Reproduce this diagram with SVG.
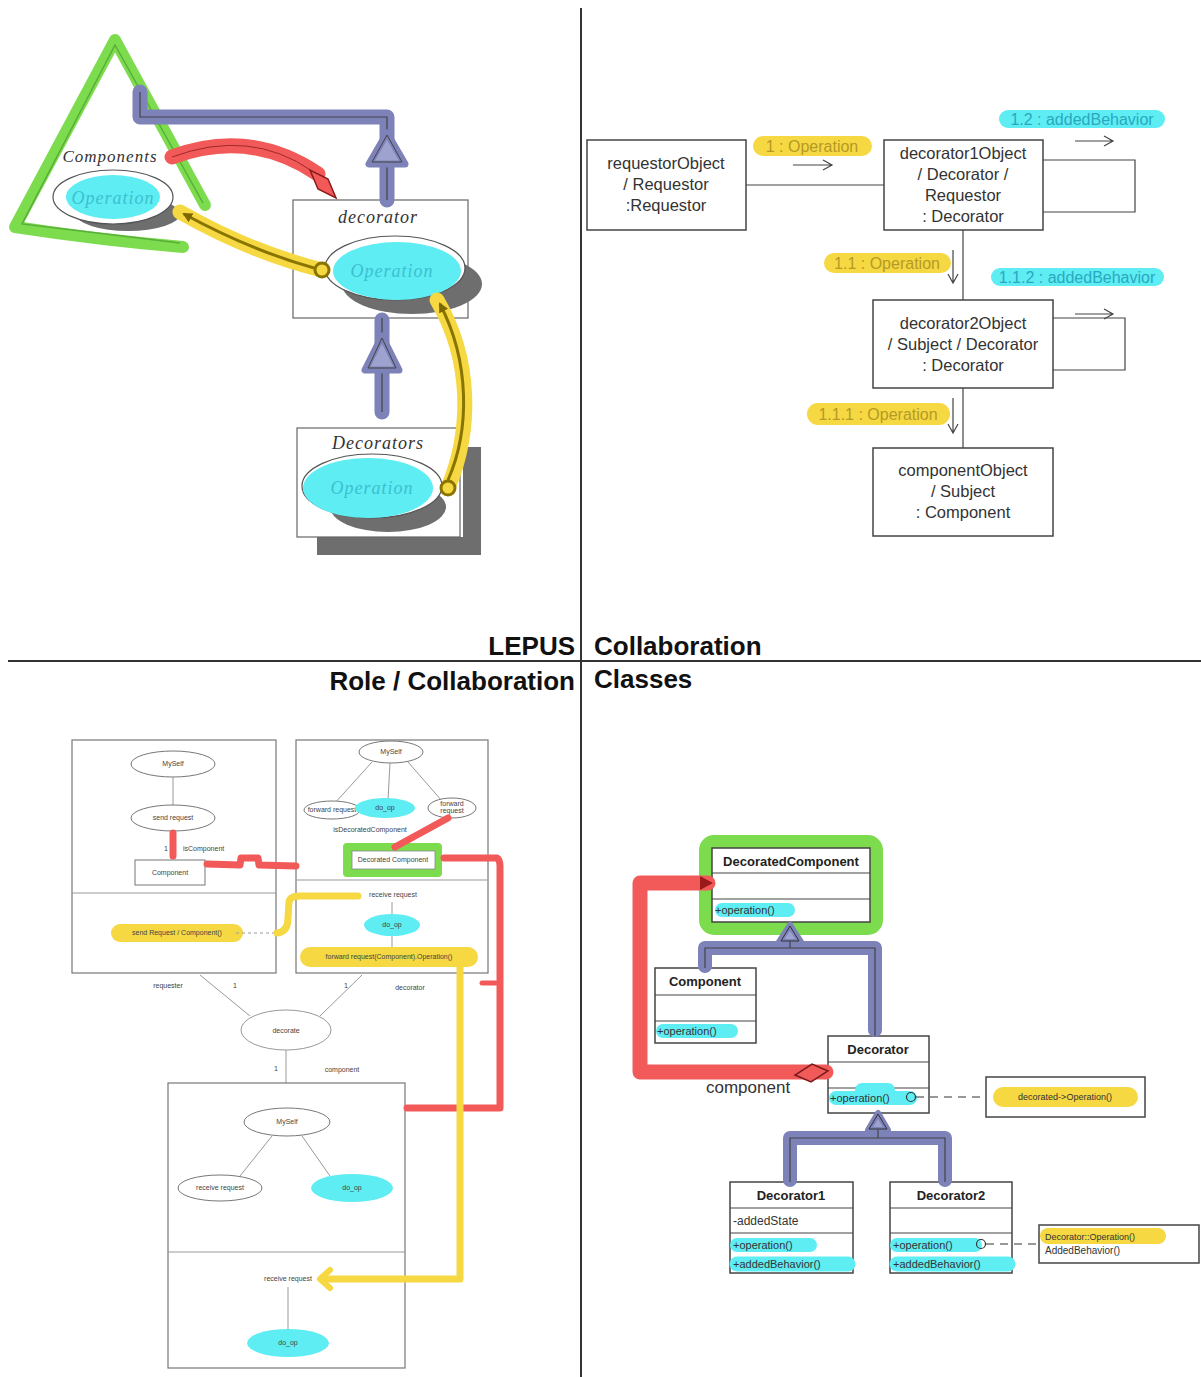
<svg xmlns="http://www.w3.org/2000/svg" width="1201" height="1377" viewBox="0 0 1201 1377">
<style>
.bg{fill:#fff}
.div{stroke:#333;stroke-width:2;fill:none}
.box{fill:#fff;stroke:#444;stroke-width:1.5}
.lbox{fill:none;stroke:#777;stroke-width:1.2}
.thin{fill:none;stroke:#444;stroke-width:1.2}
.faint{fill:none;stroke:#999;stroke-width:1}
.t{font-family:"Liberation Sans",Arial,sans-serif;fill:#333}
.it{font-family:"Liberation Serif","Times New Roman",serif;font-style:italic}
.big{font-family:"Liberation Sans",Arial,sans-serif;font-weight:bold;font-size:26px;fill:#111}
.hy{stroke:#f5d842;stroke-linecap:round;stroke-linejoin:round;fill:none}
.hc{stroke:#5eedf3;stroke-linecap:round;stroke-linejoin:round;fill:none}
.hr{stroke:#f25a5a;stroke-linecap:round;stroke-linejoin:round;fill:none}
.hg{stroke:#7ddc4e;stroke-linecap:round;stroke-linejoin:round;fill:none}
.hb{stroke:#7d82b8;stroke-linecap:round;stroke-linejoin:round;fill:none}
.shadow{fill:#6e6e6e}
.cy{fill:#5eedf3}
.ty{fill:#b59a26}
.tc{fill:#2aa8c0}
.small{font-family:"Liberation Sans",Arial,sans-serif;font-size:7px;fill:#444}
.cls{font-family:"Liberation Sans",Arial,sans-serif;font-weight:bold;font-size:13px;fill:#222}
</style>
<defs>
<marker id="olive" markerWidth="10" markerHeight="10" refX="8" refY="5" orient="auto" markerUnits="userSpaceOnUse">
<path d="M0,0 L10,5 L0,10 z" fill="#7d6800"/>
</marker>
</defs>
<rect class="bg" x="0" y="0" width="1201" height="1377"/>

<!-- quadrant dividers and titles -->
<g id="dividers">
<line class="div" x1="581" y1="8" x2="581" y2="1377"/>
<line class="div" x1="8" y1="661" x2="1201" y2="661"/>
<text class="big" x="575" y="655" text-anchor="end">LEPUS</text>
<text class="big" x="594" y="655">Collaboration</text>
<text class="big" x="575" y="690" text-anchor="end">Role / Collaboration</text>
<text class="big" x="594" y="688">Classes</text>
</g>

<!-- ============ TOP LEFT: LEPUS ============ -->
<g id="lepus-components">
<path class="hg" d="M205,205 L115,40 L15,227 Q100,240 183,247" stroke-width="12"/>
<path d="M203,203 L115,45 L22,224 L180,243" fill="none" stroke="#3f8f2a" stroke-width="1.5" opacity="0.6"/>
<text class="it" x="110" y="162" font-size="17" fill="#333" text-anchor="middle" letter-spacing="1">Components</text>
<ellipse class="shadow" cx="128" cy="214" rx="52" ry="17"/>
<ellipse cx="113" cy="197" rx="60" ry="27" fill="#fff" stroke="#555" stroke-width="1.2"/>
<ellipse class="cy" cx="113" cy="197" rx="47" ry="22"/>
<text class="it" x="113" y="204" font-size="18" fill="#3cc0d0" text-anchor="middle" letter-spacing="1">Operation</text>
</g>

<g id="lepus-decorator">
<rect x="293" y="200" width="175" height="118" fill="none" stroke="#666" stroke-width="1.2"/>
<text class="it" x="378" y="223" font-size="18" fill="#333" text-anchor="middle" letter-spacing="1">decorator</text>
<ellipse class="shadow" cx="412" cy="284" rx="70" ry="30"/>
<ellipse cx="395" cy="268" rx="70" ry="32" fill="#fff" stroke="#555" stroke-width="1.2"/>
<ellipse class="cy" cx="397" cy="271" rx="64" ry="29"/>
<text class="it" x="392" y="277" font-size="18" fill="#3cc0d0" text-anchor="middle" letter-spacing="1">Operation</text>
</g>

<g id="lepus-decorators">
<rect x="463" y="447" width="18" height="108" class="shadow"/>
<rect x="317" y="537" width="164" height="18" class="shadow"/>
<rect x="297" y="428" width="163" height="109" fill="none" stroke="#666" stroke-width="1.2"/>
<text class="it" x="378" y="449" font-size="18" fill="#333" text-anchor="middle" letter-spacing="1">Decorators</text>
<ellipse class="shadow" cx="388" cy="507" rx="58" ry="25"/>
<ellipse cx="372" cy="486" rx="70" ry="32" fill="#fff" stroke="#555" stroke-width="1.2"/>
<ellipse class="cy" cx="368" cy="488" rx="65" ry="30"/>
<text class="it" x="372" y="494" font-size="18" fill="#3cc0d0" text-anchor="middle" letter-spacing="1">Operation</text>
</g>

<g id="lepus-connectors">
<!-- blue inheritance top -->
<path class="hb" d="M140,92 L140,117 L387,117 L387,200" stroke-width="15"/>
<path class="thin" d="M140,92 L140,117 L387,117 L387,200"/>
<polygon points="387,133 369,164 405,164" fill="#9ea2cf" stroke="#7d82b8" stroke-width="7" stroke-linejoin="round"/>
<polygon points="387,135 372,162 402,162" fill="none" stroke="#444" stroke-width="1"/>
<!-- blue inheritance bottom -->
<path class="hb" d="M382,412 L382,320" stroke-width="15"/>
<line class="thin" x1="382" y1="412" x2="382" y2="318"/>
<polygon points="382,336 365,370 399,370" fill="#9ea2cf" stroke="#7d82b8" stroke-width="7" stroke-linejoin="round"/>
<polygon points="382,338 368,368 396,368" fill="none" stroke="#444" stroke-width="1"/>
<!-- red aggregation -->
<path class="hr" d="M172,157 Q250,128 318,174" stroke-width="15"/>
<path d="M172,157 Q250,128 312,171" fill="none" stroke="#a02828" stroke-width="1"/>
<polygon points="310,170 318,189 336,198 328,179" fill="#f25a5a" stroke="#8a1c1c" stroke-width="1.5"/>
<!-- yellow call 1 -->
<path class="hy" d="M322,270 Q250,252 180,212" stroke-width="15"/>
<path d="M314,268 Q250,250 184,214" fill="none" stroke="#8a7400" stroke-width="3" marker-end="url(#olive)"/>
<circle cx="322" cy="270" r="7" fill="#f5d842" stroke="#8a7400" stroke-width="3"/>
<!-- yellow call 2 -->
<path class="hy" d="M448,488 C472,430 472,360 437,300" stroke-width="15"/>
<path d="M448,480 C470,430 470,362 440,304" fill="none" stroke="#8a7400" stroke-width="3" marker-end="url(#olive)"/>
<circle cx="448" cy="488" r="7" fill="#f5d842" stroke="#8a7400" stroke-width="3"/>
</g>

<!-- ============ TOP RIGHT: Collaboration ============ -->
<g id="collab-requestor">
<rect class="box" x="587" y="140" width="159" height="90"/>
<text class="t" font-size="16.5" x="666" y="169" text-anchor="middle">requestorObject</text>
<text class="t" font-size="16.5" x="666" y="190" text-anchor="middle">/ Requestor</text>
<text class="t" font-size="16.5" x="666" y="211" text-anchor="middle">:Requestor</text>
</g>
<g id="collab-decorator1">
<rect class="box" x="884" y="140" width="159" height="90"/>
<text class="t" font-size="16.5" x="963" y="159" text-anchor="middle">decorator1Object</text>
<text class="t" font-size="16.5" x="963" y="180" text-anchor="middle">/ Decorator /</text>
<text class="t" font-size="16.5" x="963" y="201" text-anchor="middle">Requestor</text>
<text class="t" font-size="16.5" x="963" y="222" text-anchor="middle">: Decorator</text>
</g>
<g id="collab-decorator2">
<rect class="box" x="873" y="300" width="180" height="88"/>
<text class="t" font-size="16.5" x="963" y="329" text-anchor="middle">decorator2Object</text>
<text class="t" font-size="16.5" x="963" y="350" text-anchor="middle">/ Subject / Decorator</text>
<text class="t" font-size="16.5" x="963" y="371" text-anchor="middle">: Decorator</text>
</g>
<g id="collab-component">
<rect class="box" x="873" y="448" width="180" height="88"/>
<text class="t" font-size="16.5" x="963" y="476" text-anchor="middle">componentObject</text>
<text class="t" font-size="16.5" x="963" y="497" text-anchor="middle">/ Subject</text>
<text class="t" font-size="16.5" x="963" y="518" text-anchor="middle">: Component</text>
</g>
<g id="collab-connectors">
<line class="thin" x1="746" y1="185" x2="884" y2="185"/>
<path class="thin" d="M1043,160 L1135,160 L1135,212 L1043,212"/>
<line class="thin" x1="963" y1="230" x2="963" y2="300"/>
<path class="thin" d="M1053,318 L1125,318 L1125,370 L1053,370"/>
<line class="thin" x1="963" y1="388" x2="963" y2="448"/>
<!-- message arrows -->
<path class="thin" d="M793,165 L831,165 M823,160 L832,165 L823,170"/>
<path class="thin" d="M1075,141 L1112,141 M1104,136 L1113,141 L1104,146"/>
<path class="thin" d="M1075,314 L1112,314 M1104,309 L1113,314 L1104,319"/>
<path class="thin" d="M953,250 L953,282 M948,274 L953,283 L958,274"/>
<path class="thin" d="M953,398 L953,432 M948,424 L953,433 L958,424"/>
<!-- labels -->
<path class="hy" d="M763,146 L862,146" stroke-width="20"/>
<text class="t ty" font-size="16" x="812" y="152" text-anchor="middle">1 : Operation</text>
<path class="hc" d="M1008,119 L1156,119" stroke-width="18"/>
<text class="t tc" font-size="16" x="1082" y="125" text-anchor="middle">1.2 : addedBehavior</text>
<path class="hy" d="M834,263 L941,263" stroke-width="20"/>
<text class="t ty" font-size="16" x="887" y="269" text-anchor="middle">1.1 : Operation</text>
<path class="hc" d="M1000,277 L1155,277" stroke-width="18"/>
<text class="t tc" font-size="16" x="1077" y="283" text-anchor="middle">1.1.2 : addedBehavior</text>
<path class="hy" d="M818,414 L939,414" stroke-width="22"/>
<text class="t ty" font-size="16" x="878" y="420" text-anchor="middle">1.1.1 : Operation</text>
</g>

<!-- ============ BOTTOM LEFT: Role / Collaboration ============ -->
<g id="role-requester">
<rect class="lbox" x="72" y="740" width="204" height="233"/>
<line class="faint" x1="72" y1="893" x2="276" y2="893" stroke="#666"/>
<ellipse cx="173" cy="764" rx="42" ry="13" fill="#fff" stroke="#777"/>
<text class="small" x="173" y="766" text-anchor="middle">MySelf</text>
<line class="faint" x1="173" y1="777" x2="173" y2="805"/>
<ellipse cx="173" cy="818" rx="42" ry="13" fill="#fff" stroke="#777"/>
<text class="small" x="173" y="820" text-anchor="middle">send request</text>
<path class="hr" d="M173,833 L173,856" stroke-width="7"/>
<text class="small" x="164" y="851">1</text>
<text class="small" x="183" y="851">isComponent</text>
<rect x="135" y="860" width="70" height="25" fill="#fff" stroke="#777"/>
<text class="small" x="170" y="875" text-anchor="middle">Component</text>
<path class="hy" d="M120,933 L234,933" stroke-width="18"/>
<text class="small" x="177" y="935" text-anchor="middle" fill="#8a7a30">send Request / Component()</text>
<line x1="236" y1="933" x2="276" y2="933" stroke="#999" stroke-dasharray="3,3"/>
</g>

<g id="role-decorator">
<rect class="lbox" x="296" y="740" width="192" height="233"/>
<line class="faint" x1="296" y1="880" x2="488" y2="880" stroke="#666"/>
<ellipse cx="391" cy="752" rx="32" ry="11" fill="#fff" stroke="#777"/>
<text class="small" x="391" y="754" text-anchor="middle">MySelf</text>
<path class="faint" d="M372,762 L335,803 M390,763 L388,800 M408,762 L442,801" stroke="#666"/>
<ellipse cx="332" cy="810" rx="28" ry="9" fill="#fff" stroke="#777"/>
<text class="small" x="332" y="812" text-anchor="middle" font-size="5.5">forward request</text>
<ellipse class="cy" cx="385" cy="808" rx="30" ry="10"/>
<text class="small" x="385" y="810" text-anchor="middle" fill="#2aa8c0">do_op</text>
<ellipse cx="452" cy="808" rx="24" ry="10" fill="#fff" stroke="#777"/>
<text class="small" x="452" y="806" text-anchor="middle" font-size="5.5">forward</text>
<text class="small" x="452" y="813" text-anchor="middle" font-size="5.5">request</text>
<text class="small" x="370" y="832" text-anchor="middle" font-size="6">isDecoratedComponent</text>
<rect x="343" y="843" width="99" height="34" rx="4" fill="#7ddc4e"/>
<rect x="352" y="851" width="83" height="18" fill="#fff" stroke="#888" stroke-width="0.8"/>
<text class="small" x="393" y="862" text-anchor="middle">Decorated Component</text>
<text class="small" x="393" y="897" text-anchor="middle">receive request</text>
<line class="faint" x1="392" y1="902" x2="392" y2="914"/>
<ellipse class="cy" cx="392" cy="925" rx="28" ry="11"/>
<text class="small" x="392" y="927" text-anchor="middle" fill="#2aa8c0">do_op</text>
<line class="faint" x1="392" y1="936" x2="392" y2="948"/>
<path class="hy" d="M310,957 L468,957" stroke-width="20"/>
<text class="small" x="389" y="959" text-anchor="middle" font-size="6" fill="#8a7a30">forward request(Component).Operation()</text>
</g>

<g id="role-decorate">
<ellipse cx="286" cy="1030" rx="45" ry="20" fill="#fff" stroke="#999"/>
<text class="small" x="286" y="1033" text-anchor="middle">decorate</text>
<line class="faint" x1="200" y1="975" x2="250" y2="1016"/>
<line class="faint" x1="362" y1="975" x2="320" y2="1016"/>
<line class="faint" x1="286" y1="1050" x2="286" y2="1083"/>
<text class="small" x="168" y="988" text-anchor="middle">requester</text>
<text class="small" x="233" y="988">1</text>
<text class="small" x="344" y="988">1</text>
<text class="small" x="410" y="990" text-anchor="middle">decorator</text>
<text class="small" x="274" y="1071">1</text>
<text class="small" x="342" y="1072" text-anchor="middle">component</text>
</g>

<g id="role-component">
<rect class="lbox" x="168" y="1083" width="237" height="285"/>
<line class="faint" x1="168" y1="1252" x2="405" y2="1252" stroke="#666"/>
<ellipse cx="287" cy="1122" rx="43" ry="14" fill="#fff" stroke="#777"/>
<text class="small" x="287" y="1124" text-anchor="middle">MySelf</text>
<path class="faint" d="M272,1136 L240,1176 M302,1136 L330,1176" stroke="#666"/>
<ellipse cx="220" cy="1188" rx="42" ry="13" fill="#fff" stroke="#777"/>
<text class="small" x="220" y="1190" text-anchor="middle">receive request</text>
<ellipse class="cy" cx="352" cy="1188" rx="41" ry="14"/>
<text class="small" x="352" y="1190" text-anchor="middle" fill="#2aa8c0">do_op</text>
<text class="small" x="288" y="1281" text-anchor="middle">receive request</text>
<line class="faint" x1="288" y1="1287" x2="288" y2="1330"/>
<ellipse class="cy" cx="288" cy="1343" rx="41" ry="14"/>
<text class="small" x="288" y="1345" text-anchor="middle" fill="#2aa8c0">do_op</text>
</g>

<g id="role-connectors">
<path class="hr" d="M207,864 L240,865 L241,858 L258,858 L259,865 L296,866" stroke-width="7"/>
<path class="hr" d="M448,818 L395,847" stroke-width="7"/>
<path class="hr" d="M444,858 L497,858 Q500,860 500,866 L500,1108 L407,1108" stroke-width="7"/>
<path class="hr" d="M482,983 L496,983" stroke-width="5"/>
<path class="hy" d="M277,933 Q288,932 288,918 L289,902 Q290,896 300,896 L358,896" stroke-width="7"/>
<path class="hy" d="M460,967 L460,1279 L322,1279" stroke-width="7"/>
<path class="hy" d="M330,1270 L320,1279 L330,1288" stroke-width="6"/>
</g>

<!-- ============ BOTTOM RIGHT: Classes ============ -->
<g id="cls-decoratedcomponent">
<rect x="706" y="842" width="170" height="86" rx="8" fill="none" stroke="#7ddc4e" stroke-width="14"/>
<rect class="box" x="712" y="848" width="158" height="74" stroke="#333"/>
<line class="thin" x1="712" y1="873" x2="870" y2="873"/>
<line class="thin" x1="712" y1="899" x2="870" y2="899"/>
<text class="cls" x="791" y="866" text-anchor="middle">DecoratedComponent</text>
<path class="hc" d="M722,910 L788,910" stroke-width="14"/>
<text class="t" x="715" y="914" font-size="11" fill="#2aa8c0">+operation()</text>
</g>

<g id="cls-component">
<rect class="box" x="655" y="968" width="101" height="75" stroke="#333"/>
<line class="thin" x1="655" y1="995" x2="756" y2="995"/>
<line class="thin" x1="655" y1="1021" x2="756" y2="1021"/>
<text class="cls" x="705" y="986" text-anchor="middle">Component</text>
<path class="hc" d="M663,1031 L731,1031" stroke-width="14"/>
<text class="t" x="657" y="1035" font-size="11" fill="#2aa8c0">+operation()</text>
</g>

<g id="cls-decorator">
<rect class="box" x="828" y="1036" width="101" height="77" stroke="#333"/>
<line class="thin" x1="828" y1="1062" x2="929" y2="1062"/>
<line class="thin" x1="828" y1="1088" x2="929" y2="1088"/>
<text class="cls" x="878" y="1054" text-anchor="middle">Decorator</text>
<path class="hc" d="M836,1098 L910,1098 M862,1090 L888,1090" stroke-width="14"/>
<text class="t" x="830" y="1102" font-size="11" fill="#2aa8c0">+operation()</text>
<circle cx="911" cy="1097" r="4.5" fill="none" stroke="#333" stroke-width="1.2"/>
</g>

<g id="cls-note1">
<rect class="box" x="986" y="1077" width="159" height="40" stroke="#333"/>
<path class="hy" d="M1003,1097 L1128,1097" stroke-width="20"/>
<text class="t" x="1065" y="1100" font-size="9" text-anchor="middle" fill="#a89030">decorated-&gt;Operation()</text>
</g>

<g id="cls-decorator1">
<rect class="box" x="730" y="1182" width="123" height="91" stroke="#333"/>
<line class="thin" x1="730" y1="1208" x2="853" y2="1208"/>
<line class="thin" x1="730" y1="1233" x2="853" y2="1233"/>
<text class="cls" x="791" y="1200" text-anchor="middle">Decorator1</text>
<text class="t" x="733" y="1225" font-size="12" fill="#555">-addedState</text>
<path class="hc" d="M737,1245 L810,1245" stroke-width="14"/>
<path class="hc" d="M737,1264 L848,1264" stroke-width="15"/>
<text class="t" x="733" y="1249" font-size="11" fill="#2aa8c0">+operation()</text>
<text class="t" x="733" y="1268" font-size="11" fill="#2aa8c0">+addedBehavior()</text>
</g>

<g id="cls-decorator2">
<rect class="box" x="890" y="1182" width="122" height="91" stroke="#333"/>
<line class="thin" x1="890" y1="1208" x2="1012" y2="1208"/>
<line class="thin" x1="890" y1="1233" x2="1012" y2="1233"/>
<text class="cls" x="951" y="1200" text-anchor="middle">Decorator2</text>
<path class="hc" d="M897,1245 L975,1245" stroke-width="14"/>
<path class="hc" d="M897,1264 L1008,1264" stroke-width="15"/>
<text class="t" x="893" y="1249" font-size="11" fill="#2aa8c0">+operation()</text>
<text class="t" x="893" y="1268" font-size="11" fill="#2aa8c0">+addedBehavior()</text>
<circle cx="981" cy="1244" r="4.5" fill="none" stroke="#333" stroke-width="1.2"/>
</g>

<g id="cls-note2">
<rect class="box" x="1039" y="1225" width="160" height="38" stroke="#333"/>
<path class="hy" d="M1048,1236 L1158,1236" stroke-width="16"/>
<text class="t" x="1045" y="1240" font-size="9" fill="#a89030">Decorator::Operation()</text>
<text class="t" x="1045" y="1254" font-size="10" fill="#333">AddedBehavior()</text>
</g>

<g id="cls-connectors">
<!-- upper generalization -->
<path class="hb" d="M705,966 L705,948 L875,948 L875,1030" stroke-width="14"/>
<path class="hb" d="M790,940 L790,948" stroke-width="14"/>
<polygon points="790,925 779,942 801,942" fill="#9ea2cf" stroke="#7d82b8" stroke-width="6" stroke-linejoin="round"/>
<polygon points="790,926 781,941 799,941" fill="none" stroke="#333" stroke-width="1"/>
<path class="thin" d="M705,968 L705,948 L875,948 L875,1036 M790,941 L790,948"/>
<!-- lower generalization -->
<path class="hb" d="M790,1180 L790,1138 L945,1138 L945,1180" stroke-width="14"/>
<path class="hb" d="M878,1128 L878,1138" stroke-width="14"/>
<polygon points="878,1113 868,1130 888,1130" fill="#9ea2cf" stroke="#7d82b8" stroke-width="6" stroke-linejoin="round"/>
<polygon points="878,1114 869,1129 887,1129" fill="none" stroke="#333" stroke-width="1"/>
<path class="thin" d="M790,1182 L790,1138 L945,1138 L945,1182 M878,1130 L878,1138"/>
<!-- composition -->
<path class="hr" d="M826,1072 L640,1072 L640,883 L708,883" stroke-width="15"/>
<path d="M700,876 L713,883 L700,890 z" fill="#9a1a1a"/>
<polygon points="828,1071 812,1064 795,1075 811,1082" fill="#f25a5a" stroke="#7a1a1a" stroke-width="1.5"/>
<text class="t" x="706" y="1093" font-size="17" fill="#555">component</text>
<!-- notes -->
<line x1="916" y1="1097" x2="986" y2="1097" stroke="#333" stroke-width="1.2" stroke-dasharray="8,6"/>
<line x1="986" y1="1244" x2="1039" y2="1244" stroke="#333" stroke-width="1.2" stroke-dasharray="8,6"/>
</g>
</svg>
